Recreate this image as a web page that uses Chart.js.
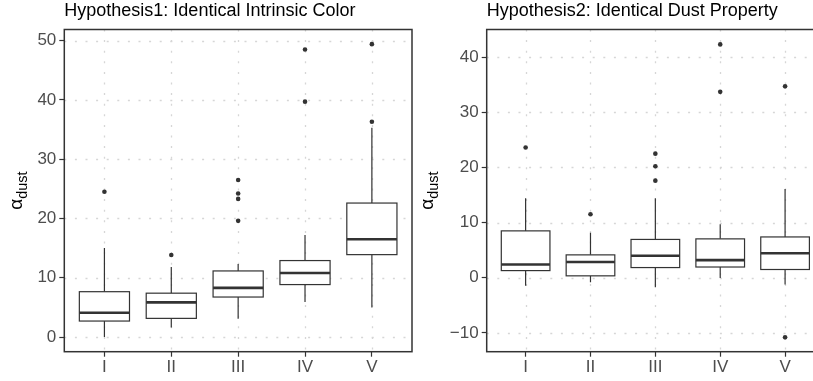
<!DOCTYPE html>
<html>
<head>
<meta charset="utf-8">
<script src="https://cdn.jsdelivr.net/npm/chart.js@4"></script>
<style>
  body { margin: 0; width: 813px; height: 381px; overflow: hidden; background: #fff; position: relative; }
  canvas { position: absolute; top: 0; }
  #left { left: 0; }
  #right { left: 416px; }
</style>
</head>
<body>
<canvas id="left" width="416" height="381"></canvas>
<canvas id="right" width="424" height="381"></canvas>
<script>
// Categories
const categories = ['I', 'II', 'III', 'IV', 'V'];

// Hypothesis1: box statistics per category
const h1Low = [0.0, 1.6, 3.1, 5.9, 5.0];
const h1Q1 = [2.7, 3.15, 6.75, 8.85, 13.9];
const h1Median = [4.1, 5.85, 8.3, 10.8, 16.5];
const h1Q3 = [7.65, 7.4, 11.15, 12.9, 22.6];
const h1High = [15.0, 11.8, 12.3, 17.2, 35.3];
const h1Outliers = [[24.5], [13.85], [26.5, 24.2, 23.3, 19.6], [48.5, 39.7], [49.4, 36.3]];
const h1YTicks = [0, 10, 20, 30, 40, 50];
const h1YRange = [-2.47, 51.87];

// Hypothesis2: box statistics per category
const h2Low = [-1.45, -0.8, -1.7, -0.05, -1.2];
const h2Q1 = [1.3, 0.35, 1.85, 1.95, 1.5];
const h2Median = [2.4, 2.85, 4.0, 3.2, 4.45];
const h2Q3 = [8.5, 4.15, 6.95, 7.05, 7.4];
const h2High = [14.4, 8.15, 14.4, 9.7, 16.1];
const h2Outliers = [[23.6], [11.5], [22.5, 20.2, 17.6], [42.3, 33.7], [34.7, -10.8]];
const h2YTicks = [-10, 0, 10, 20, 30, 40];
const h2YRange = [-13.4, 45.0];

const FONT = "'Liberation Sans', Arial, sans-serif";
const DARK = '#333333';

// boxes, grid, frame and titles drawn with the chart's scales
const boxPlugin = {
    id: 'boxPlugin',
    beforeDatasetsDraw(chart) {
        const ctx = chart.ctx;
        const xs = chart.scales.x, ys = chart.scales.y;
        const area = chart.chartArea;
        const cfg = chart.options.plugins.boxPlugin;

        // dotted grid
        ctx.save();
        ctx.strokeStyle = '#d6d6d6';
        ctx.lineWidth = 1.3;
        ctx.setLineDash([2, 8.6]);
        ys.ticks.forEach(t => {
            const y = Math.round(ys.getPixelForValue(t.value)) + 0.5;
            ctx.beginPath();
            ctx.moveTo(area.left, y);
            ctx.lineTo(area.right, y);
            ctx.stroke();
        });
        xs.ticks.forEach(t => {
            const x = Math.round(xs.getPixelForValue(t.value)) + 0.5;
            ctx.beginPath();
            ctx.moveTo(x, area.top);
            ctx.lineTo(x, area.bottom);
            ctx.stroke();
        });
        ctx.restore();

        // boxes
        ctx.save();
        ctx.strokeStyle = DARK;
        const half = 0.375 * (xs.getPixelForValue(2) - xs.getPixelForValue(1));
        categories.forEach((c, i) => {
            const x = xs.getPixelForValue(i + 1);
            const yLow = ys.getPixelForValue(cfg.low[i]);
            const yQ1 = ys.getPixelForValue(cfg.q1[i]);
            const yMed = ys.getPixelForValue(cfg.median[i]);
            const yQ3 = ys.getPixelForValue(cfg.q3[i]);
            const yHigh = ys.getPixelForValue(cfg.high[i]);
            ctx.lineWidth = 1.2;
            ctx.beginPath();
            ctx.moveTo(x, yQ1); ctx.lineTo(x, yLow);
            ctx.moveTo(x, yQ3); ctx.lineTo(x, yHigh);
            ctx.stroke();
            ctx.fillStyle = '#fff';
            ctx.fillRect(x - half, yQ3, 2 * half, yQ1 - yQ3);
            ctx.strokeRect(x - half, yQ3, 2 * half, yQ1 - yQ3);
            ctx.lineWidth = 2.6;
            ctx.beginPath();
            ctx.moveTo(x - half, yMed); ctx.lineTo(x + half, yMed);
            ctx.stroke();
        });
        ctx.restore();
    },
    afterDatasetsDraw(chart) {
        const ctx = chart.ctx;
        const area = chart.chartArea;
        const cfg = chart.options.plugins.boxPlugin;
        ctx.save();
        ctx.strokeStyle = DARK;
        ctx.lineWidth = 1.5;
        ctx.strokeRect(area.left, area.top, area.right - area.left, area.bottom - area.top);

        // title
        ctx.fillStyle = '#000';
        ctx.font = '18px ' + FONT;
        ctx.textBaseline = 'alphabetic';
        ctx.textAlign = 'left';
        ctx.fillText(cfg.title, area.left, 16);

        // y axis title: alpha with subscript "dust"
        ctx.translate(cfg.labelX, (area.top + area.bottom) / 2);
        ctx.rotate(-Math.PI / 2);
        ctx.font = '19px ' + FONT;
        const aW = ctx.measureText('\u03b1').width;
        ctx.font = '14.5px ' + FONT;
        const dW = ctx.measureText('dust').width;
        const start = -(aW + dW) / 2;
        ctx.font = '19px ' + FONT;
        ctx.fillText('\u03b1', start, 0);
        ctx.font = '14.5px ' + FONT;
        ctx.fillText('dust', start + aW, 5);
        ctx.restore();
    }
};

function makePoints(outliers) {
    const pts = [];
    outliers.forEach((list, i) => list.forEach(v => pts.push({ x: i + 1, y: v })));
    return pts;
}

function renderBox(id, opts) {
    const ctx = document.getElementById(id).getContext('2d');
    return new Chart(ctx, {
        type: 'scatter',
        data: {
            datasets: [{
                data: makePoints(opts.outliers),
                pointRadius: 2.3,
                pointBackgroundColor: DARK,
                pointBorderWidth: 0
            }]
        },
        options: {
            responsive: false,
            animation: false,
            layout: { padding: { top: 29.5, right: opts.padRight, bottom: 0, left: 0 } },
            plugins: {
                legend: { display: false },
                tooltip: { enabled: false },
                boxPlugin: opts
            },
            scales: {
                x: {
                    type: 'linear',
                    min: 0.4,
                    max: 5.6,
                    afterBuildTicks: s => { s.ticks = categories.map((c, i) => ({ value: i + 1 })); },
                    afterFit: s => { s.height = 29.3; },
                    ticks: {
                        callback: v => categories[v - 1],
                        font: { family: FONT, size: 17 },
                        color: '#4d4d4d',
                        padding: 0,
                        maxRotation: 0,
                        autoSkip: false
                    },
                    grid: { drawOnChartArea: false, tickLength: 5, tickColor: DARK, tickWidth: 1.2 },
                    border: { display: false }
                },
                y: {
                    min: opts.range[0],
                    max: opts.range[1],
                    afterBuildTicks: s => { s.ticks = opts.yTicks.map(v => ({ value: v })); },
                    afterFit: s => { s.width = opts.axisWidth; },
                    ticks: {
                        callback: v => v < 0 ? '\u2212' + Math.abs(v) : String(v),
                        font: { family: FONT, size: 17 },
                        color: '#4d4d4d',
                        padding: 3
                    },
                    grid: { drawOnChartArea: false, tickLength: 5, tickColor: DARK, tickWidth: 1.2 },
                    border: { display: false }
                }
            }
        },
        plugins: [boxPlugin]
    });
}

renderBox('left', {
    title: 'Hypothesis1: Identical Intrinsic Color',
    low: h1Low, q1: h1Q1, median: h1Median, q3: h1Q3, high: h1High,
    outliers: h1Outliers, yTicks: h1YTicks, range: h1YRange,
    axisWidth: 64.3, padRight: 3.5, labelX: 22
});

renderBox('right', {
    title: 'Hypothesis2: Identical Dust Property',
    low: h2Low, q1: h2Q1, median: h2Median, q3: h2Q3, high: h2High,
    outliers: h2Outliers, yTicks: h2YTicks, range: h2YRange,
    axisWidth: 70.7, padRight: 16, labelX: 17
});
</script>
</body>
</html>
